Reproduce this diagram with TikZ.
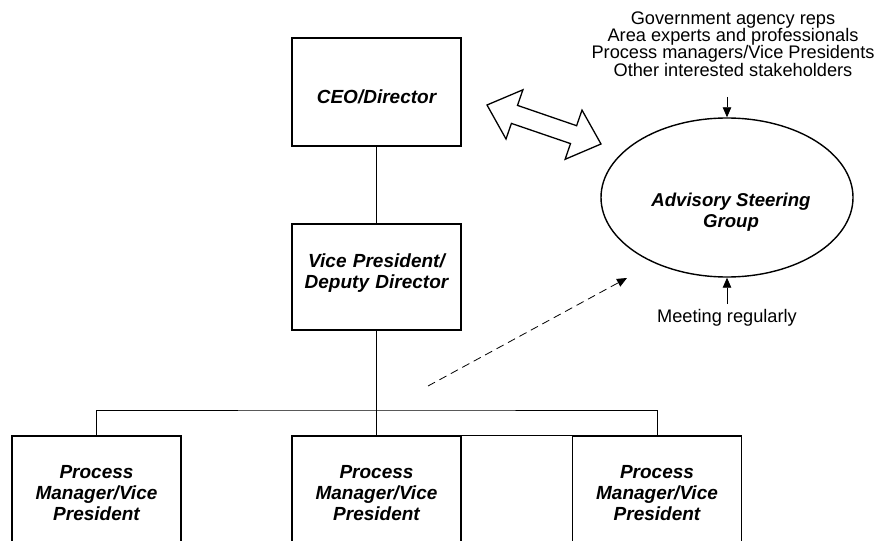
\documentclass[tikz,border=0pt]{standalone}
\usepackage{fontspec}
\setmainfont{Liberation Sans}
\usetikzlibrary{arrows.meta,shapes.geometric}
\tikzset{
  orgbox/.style={draw, line width=1.4pt, fill=white, minimum width=169pt, inner sep=0pt, align=center,
    font=\fontsize{19}{21}\selectfont\bfseries\itshape, text width=165pt},
  conn/.style={draw, line width=0.8pt},
  plain/.style={align=center, inner sep=0pt, font=\fontsize{18.2}{17.4}\selectfont},
  tip/.style={-{Triangle[length=10pt,width=8.5pt]}},
}
\begin{document}
\begin{tikzpicture}[x=1pt,y=-1pt]
\useasboundingbox (0,0) rectangle (882,540);
\clip (0,0) rectangle (882,540);
% boxes
\node[orgbox, minimum height=108pt] (ceo) at (376.5,92) {\raisebox{-5pt}[\height][\depth]{CEO/Director}};
\node[orgbox, minimum height=106pt] (vp) at (376.5,277) {\raisebox{4pt}[\height][\depth]{Vice President/}\\\raisebox{4pt}[\height][\depth]{Deputy Director}};
\node[orgbox, minimum height=114pt] (pm1) at (96.5,493) {Process\\Manager/Vice\\President};
\node[orgbox, minimum height=114pt] (pm2) at (376.5,493) {Process\\Manager/Vice\\President};
\node[orgbox, minimum height=114pt] (pm3) at (657,493) {Process\\Manager/Vice\\President};
% ellipse
\node[ellipse, draw, line width=1.4pt, minimum width=252pt, minimum height=159pt, inner sep=0pt] (asg) at (727,197.5) {};
\node[align=center, inner sep=0pt, font=\fontsize{18.6}{21}\selectfont\bfseries\itshape] (asgtext) at (731,212) {Advisory Steering\\Group};
% texts
\node[plain] (stake) at (733,44) {Government agency reps\\Area experts and professionals\\Process managers/Vice Presidents\\Other interested stakeholders};
\node[plain] (meet) at (727,318) {Meeting regularly};
% connectors
\coordinate (bus) at (376.5,410);
\draw[conn] (ceo.south) -- (vp.north);
\draw[conn] (vp.south) -- (pm2.north);
\draw[conn] (pm1.north) |- (bus) -| (pm3.north);
\draw[conn] (pm2.north east) -- (pm3.north west);
\coordinate (topstart) at (727,97);
\draw[conn, tip] (topstart) -- (asg.north);
\coordinate (botstart) at (727,304);
\draw[conn, tip] (botstart) -- (asg.south);
\coordinate (dstart) at (428,386);
\coordinate (dend) at (627,278);
\draw[conn, tip, dash pattern=on 8pt off 5pt] (dstart) -- (dend);
% double block arrow
\draw[line width=1.3pt, fill=white, line join=miter]
  (487,105) -- (522.9,89.8) -- (517.5,105.4) -- (576.6,125.7) -- (582.0,110.1)
  -- (601,144) -- (565.1,159.3) -- (570.5,143.6) -- (511.4,123.4) -- (506.0,139.0) -- cycle;
\end{tikzpicture}
\end{document}
